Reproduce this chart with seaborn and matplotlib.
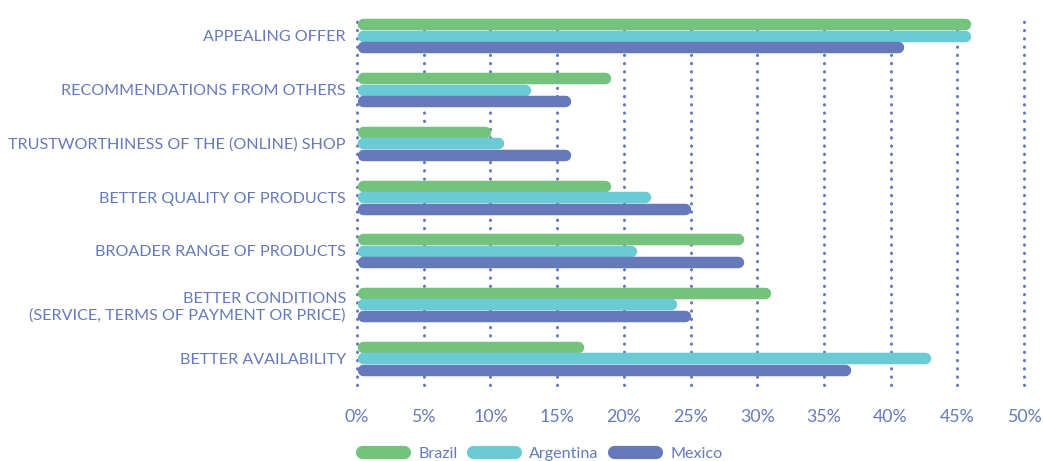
import pandas as pd
import numpy as np
import seaborn as sns
import matplotlib.pyplot as plt
from matplotlib.lines import Line2D

reasons = [
    "APPEALING OFFER",
    "RECOMMENDATIONS FROM OTHERS",
    "TRUSTWORTHINESS OF THE (ONLINE) SHOP",
    "BETTER QUALITY OF PRODUCTS",
    "BROADER RANGE OF PRODUCTS",
    "BETTER CONDITIONS\n(SERVICE, TERMS OF PAYMENT OR PRICE)",
    "BETTER AVAILABILITY",
]
countries = ["Brazil", "Argentina", "Mexico"]
brazil = [46, 19, 10, 19, 29, 31, 17]
argentina = [46, 13, 11, 22, 21, 24, 43]
mexico = [41, 16, 16, 25, 29, 25, 37]
xticks = [0, 5, 10, 15, 20, 25, 30, 35, 40, 45, 50]

colors = ["#73C37D", "#6BCBD5", "#6679BA"]
text_col = "#6679BA"

df = pd.DataFrame({
    "reason": reasons * 3,
    "country": np.repeat(countries, len(reasons)),
    "share": brazil + argentina + mexico,
})

sns.set_style("white")
plt.rcParams["font.family"] = ["Lato", "DejaVu Sans"]

fig = plt.figure(figsize=(10.43, 4.61), dpi=100)
ax = fig.add_axes([357 / 1043, 1 - 385 / 461, 667 / 1043, 370 / 461])

sns.barplot(data=df, y="reason", x="share", hue="country", orient="h",
            palette=colors, saturation=1, width=0.64, legend=False, ax=ax)

ax.set_xlim(0, 50)
ax.set_ylim(6.5, -0.39)

# swap flat bars for rounded capsules
px_per_unit = ax.get_window_extent().width / 50
bar_px = 11.5
r = bar_px / 2 / px_per_unit
for p in list(ax.patches):
    x0, y0, w, h = p.get_x(), p.get_y(), p.get_width(), p.get_height()
    yc = y0 + h / 2
    ax.plot([x0 + r, max(x0 + w - r, x0 + r)], [yc, yc], color=p.get_facecolor(),
            lw=bar_px * 72 / 100, solid_capstyle="round", zorder=3)
    p.set_visible(False)

# dotted vertical grid
for x in xticks:
    ax.axvline(x, color=text_col, lw=2.2, linestyle=(0, (0.1, 2.6)),
               dash_capstyle="round", zorder=1, clip_on=False)

for s in ax.spines.values():
    s.set_visible(False)
ax.set_xticks(xticks)
ax.set_xticklabels([f"{x}%" for x in xticks])
ax.tick_params(axis="x", length=0, pad=17, labelsize=12.8, labelcolor=text_col)
ax.tick_params(axis="y", length=0, pad=8, labelsize=11.6, labelcolor=text_col)
for t in ax.get_yticklabels():
    t.set_multialignment("right")
ax.set_xlabel("")
ax.set_ylabel("")

handles = [Line2D([0], [0], color=c, lw=9.5, solid_capstyle="round") for c in colors]
fig.legend(handles, countries, loc="lower left", bbox_to_anchor=(0.333, -0.031),
           ncol=3, frameon=False, handlelength=2.6, handletextpad=0.9,
           columnspacing=0.95, labelcolor=text_col, prop={"size": 11.6})

fig.savefig("out.png", dpi=100)
